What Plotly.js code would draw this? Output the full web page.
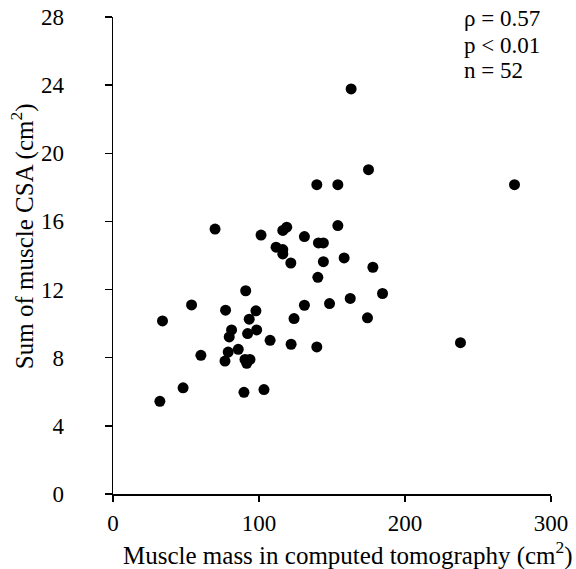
<!DOCTYPE html>
<html>
<head>
<meta charset="utf-8">
<script src="https://cdn.plot.ly/plotly-3.0.1.min.js"></script>
<style>html,body{margin:0;padding:0;background:#fff;}#chart{width:576px;height:569px;}</style>
</head>
<body>
<div id="chart"></div>
<script>
const muscleMassCT = [69.9,101.4,175,139.6,154,154,119,116.3,131.1,140.7,144.1,111.7,116.3,116.3,121.8,144.1,158.3,178,140.3,90.9,53.8,77.1,97.9,93.3,33.9,81.2,79.6,92.2,98.4,107.6,85.8,60.2,78.9,76.7,90.4,93.8,91.6,48.0,89.7,103.4,32.1,184.6,131.1,148.3,162.5,124,174.3,122,139.6,275,238,163.1];
const sumCSA = [15.55,15.2,19.04,18.16,18.16,15.76,15.66,15.47,15.11,14.74,14.74,14.49,14.35,14.09,13.56,13.64,13.86,13.31,12.72,11.93,11.1,10.79,10.75,10.26,10.16,9.63,9.22,9.42,9.63,9.02,8.49,8.14,8.33,7.8,7.9,7.9,7.67,6.23,5.97,6.13,5.44,11.77,11.08,11.18,11.48,10.3,10.34,8.79,8.63,18.16,8.88,23.78];
const xTicks = [0,100,200,300];
const yTicks = [0,4,8,12,16,20,24,28];
const statsLines = ["ρ = 0.57","p < 0.01","n = 52"];
const xTitle = "Muscle mass in computed tomography (cm<sup>2</sup>)";
const yTitle = "Sum of muscle CSA (cm<sup>2</sup>)";

const fam = "Liberation Serif, Times New Roman, serif";
const tickFont = {family: fam, size: 23, color: "#000"};
const titleFont = {family: fam, size: 25, color: "#000"};

const trace = {
  x: muscleMassCT, y: sumCSA, type: "scatter", mode: "markers",
  marker: {color: "#000", size: 11}, hoverinfo: "none"
};

const statY = [27.9, 26.35, 24.85];
const annotations = statsLines.map((t,i)=>({
  x: 239, y: statY[i], xref: "x", yref: "y", text: t, showarrow: false,
  xanchor: "left", yanchor: "middle", align: "left", font: tickFont
}));
annotations.push({
  text: xTitle, xref: "paper", yref: "paper", x: 0.537, y: -0.124,
  xanchor: "center", yanchor: "middle", showarrow: false, font: titleFont
});
annotations.push({
  text: yTitle, xref: "paper", yref: "paper", x: -0.205, y: 0.541, textangle: -90,
  xanchor: "center", yanchor: "middle", showarrow: false, font: titleFont
});

const layout = {
  width: 576, height: 569,
  margin: {l: 113, r: 25, t: 17, b: 75},
  paper_bgcolor: "#fff", plot_bgcolor: "#fff",
  showlegend: false,
  font: tickFont,
  xaxis: {
    range: [0,300], tickvals: xTicks, ticktext: xTicks.map(String),
    showgrid: false, zeroline: false, showline: true, linecolor: "#000", linewidth: 1.5,
    ticks: "outside", ticklen: 6, tickwidth: 1.5, tickcolor: "#000",
    tickfont: tickFont, ticklabelstandoff: 2
  },
  yaxis: {
    range: [0,28], tickvals: yTicks, ticktext: yTicks.map(String),
    showgrid: false, zeroline: false, showline: true, linecolor: "#000", linewidth: 1.5,
    ticks: "outside", ticklen: 7, tickwidth: 1.5, tickcolor: "#000",
    tickfont: tickFont, ticklabelstandoff: 36
  },
  annotations: annotations
};

Plotly.newPlot("chart", [trace], layout, {displayModeBar: false, staticPlot: true});
</script>
</body>
</html>
